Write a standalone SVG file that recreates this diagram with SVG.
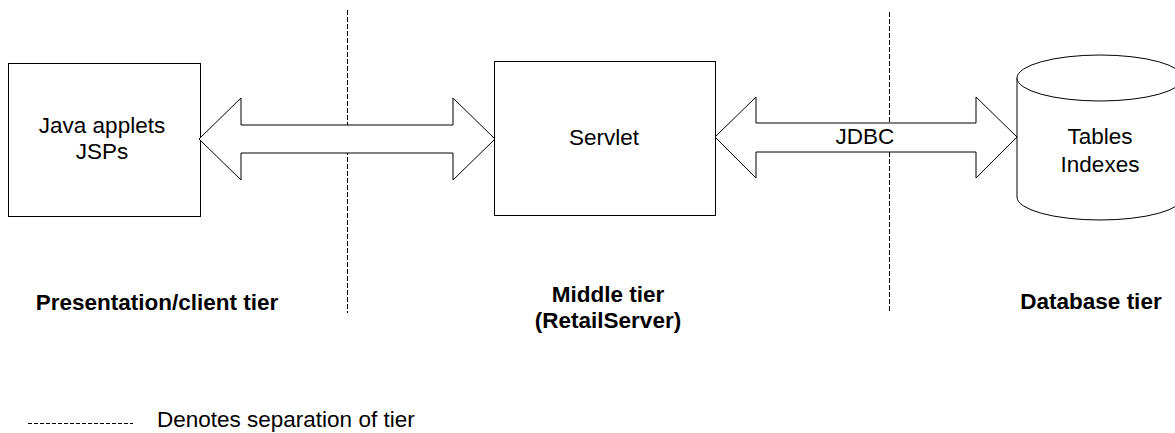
<svg xmlns="http://www.w3.org/2000/svg" width="1175" height="433" viewBox="0 0 1175 433">
<style>
.box{fill:#fff;stroke:#000;stroke-width:1}
.arrow{fill:#fff;stroke:#000;stroke-width:1}
.sep{stroke:#000;stroke-width:1;stroke-dasharray:5 2;fill:none}
.t{font-family:"Liberation Sans",Arial,sans-serif;font-size:22.5px;fill:#000}
.b{font-family:"Liberation Sans",Arial,sans-serif;font-size:22.5px;font-weight:bold;fill:#000}
</style>
<rect width="1175" height="433" fill="#fff"/>
<g id="separators">
<line class="sep" x1="347.5" y1="10" x2="347.5" y2="313"/>
<line class="sep" x1="889.5" y1="12" x2="889.5" y2="313"/>
</g>
<g id="client">
<rect class="box" x="8.5" y="63.5" width="192" height="153"/>
<text class="t" x="102" y="133" text-anchor="middle">Java applets</text>
<text class="t" x="102" y="159" text-anchor="middle">JSPs</text>
</g>
<g id="servlet">
<rect class="box" x="494.5" y="61.5" width="221" height="154"/>
<text class="t" x="604" y="145" text-anchor="middle">Servlet</text>
</g>
<g id="database">
<path class="box" d="M1017,78 L1017,197 A83,23 0 0 0 1183,197 L1183,78 A83,23 0 0 0 1017,78 Z"/>
<path class="box" d="M1017,78 A83,23 0 0 0 1183,78" fill="none"/>
<text class="t" x="1100" y="144" text-anchor="middle">Tables</text>
<text class="t" x="1100" y="172" text-anchor="middle">Indexes</text>
</g>
<g id="connectors">
<polygon class="arrow" points="199,139 241,98 241,125 453,125 453,98 495,139 453,180 453,153 241,153 241,180"/>
<polygon class="arrow" points="715,137 756,97 756,123 976,123 976,97 1017,137 976,178 976,152 756,152 756,178"/>
<text class="t" x="865" y="144" text-anchor="middle">JDBC</text>
</g>
<g id="labels">
<text class="b" x="157" y="310" text-anchor="middle">Presentation/client tier</text>
<text class="b" x="608" y="302" text-anchor="middle">Middle tier</text>
<text class="b" x="608" y="328" text-anchor="middle">(RetailServer)</text>
<text class="b" x="1091" y="309" text-anchor="middle">Database tier</text>
</g>
<g id="legend">
<line class="sep" x1="28" y1="423.5" x2="133" y2="423.5" style="stroke-dasharray:4 2"/>
<text class="t" x="157" y="427">Denotes separation of tier</text>
</g>
</svg>
